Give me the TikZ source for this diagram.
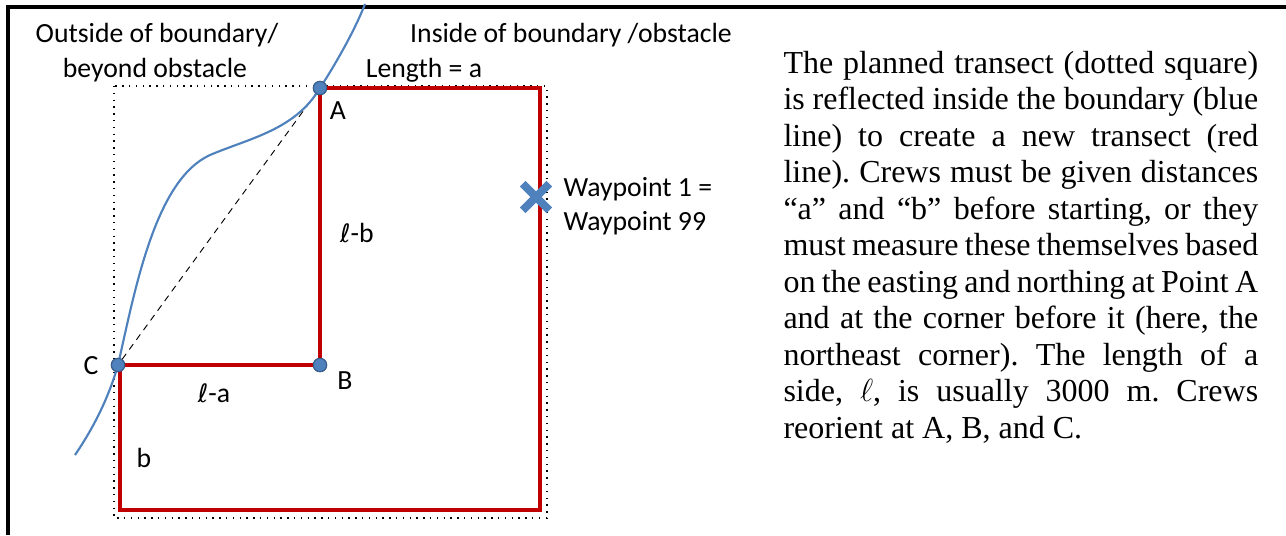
\documentclass[tikz,border=0pt]{standalone}
\usepackage{fontspec}
\setmainfont{Liberation Serif}
\newfontfamily\labelfont{Carlito}
\newfontfamily\ellfont{DejaVu Sans}
\usetikzlibrary{shapes.misc}
\definecolor{bndblue}{RGB}{79,129,189}
\definecolor{bnddark}{RGB}{56,93,138}
\definecolor{trred}{RGB}{192,0,0}
\newcommand{\sell}{{\ellfont\fontsize{9.5}{12}\selectfont ℓ}}
\begin{document}
\begin{tikzpicture}[x=0.375pt, y={(0pt,-0.375pt)},
  lbl/.style={font=\labelfont\fontsize{10.4}{12.75}\selectfont, inner sep=0pt},
  pt/.style={circle, fill=bndblue, draw=bnddark, line width=0.4pt, minimum size=5pt, inner sep=0pt},
  newtr/.style={trred, line width=1.4pt},
  planned/.style={dotted, line width=0.55pt},
  bnd/.style={bndblue, line width=0.8pt}]
  \useasboundingbox (0,0) rectangle (1286,535);
  % frame
  \draw[line width=1.4pt] (8,535) -- (8,7) -- (1286,7);
  % planned transect
  \draw[planned] (114,86) rectangle (547,518);
  % corners
  \node[pt] (A) at (320,88) {};
  \node[pt] (B) at (320,365) {};
  \node[pt] (C) at (118,365) {};
  \coordinate (ne) at (540,88);
  \coordinate (se) at (540,510);
  \coordinate (sw) at (120,510);
  \coordinate (bend) at (210,155);
  \draw[dashed, line width=0.35pt, dash pattern=on 2.5pt off 2pt] (C) -- (A);
  % new transect
  \draw[newtr] (B.center) -- (A.center) -- (ne) -- (se) -- (sw) |- (B.center);
  % boundary
  \draw[bnd] (75,455) .. controls (92,430) and (108,400) .. (C.center)
    .. controls (135,290) and (155,180) .. (bend)
    .. controls (250,138) and (295,130) .. (A.center)
    .. controls (335,65) and (355,30) .. (365,4);
  \node[pt] at (A) {};
  \node[pt] at (B) {};
  \node[pt] at (C) {};
  \node[cross out, draw=bndblue, line width=3pt, minimum size=7pt, inner sep=0pt] (wp) at (536,197) {};
  % labels
  \node[lbl] (outa) at (157,35) {Outside of boundary/};
  \node[lbl] (outb) at (155,70) {beyond obstacle};
  \node[lbl] (ins) at (571,35) {Inside of boundary /obstacle};
  \node[lbl] (lena) at (424,70) {Length = a};
  \node[lbl] (Alab) at (338,111) {A};
  \node[lbl] (Blab) at (345,381) {B};
  \node[lbl] (Clab) at (91,366) {C};
  \node[lbl] (lb) at (357,233) {\sell-b};
  \node[lbl] (la) at (214,393) {\sell-a};
  \node[lbl] (blab) at (144,458) {b};
  \node[lbl, anchor=west, align=left] (wptxt) at (563,206) {Waypoint 1 =\\Waypoint 99};
  % description
  \node[anchor=base west, text width=178pt, align=justify, inner sep=0pt,
    font=\fontsize{12}{13.7}\selectfont\frenchspacing] (desc) at (783,73)
    {The planned transect (dotted square)\linebreak
     is reflected inside the boundary (blue\linebreak
     line) to create a new transect (red\linebreak
     line). Crews must be given distances\linebreak
     “a” and “b” before starting, or they\linebreak
     must measure these themselves based\linebreak
     on the easting and northing at Point A\linebreak
     and at the corner before it (here, the\linebreak
     northeast corner). The length of a\linebreak
     side, $\ell$, is usually 3000 m. Crews\linebreak
     reorient at A, B, and C.};
\end{tikzpicture}
\end{document}
